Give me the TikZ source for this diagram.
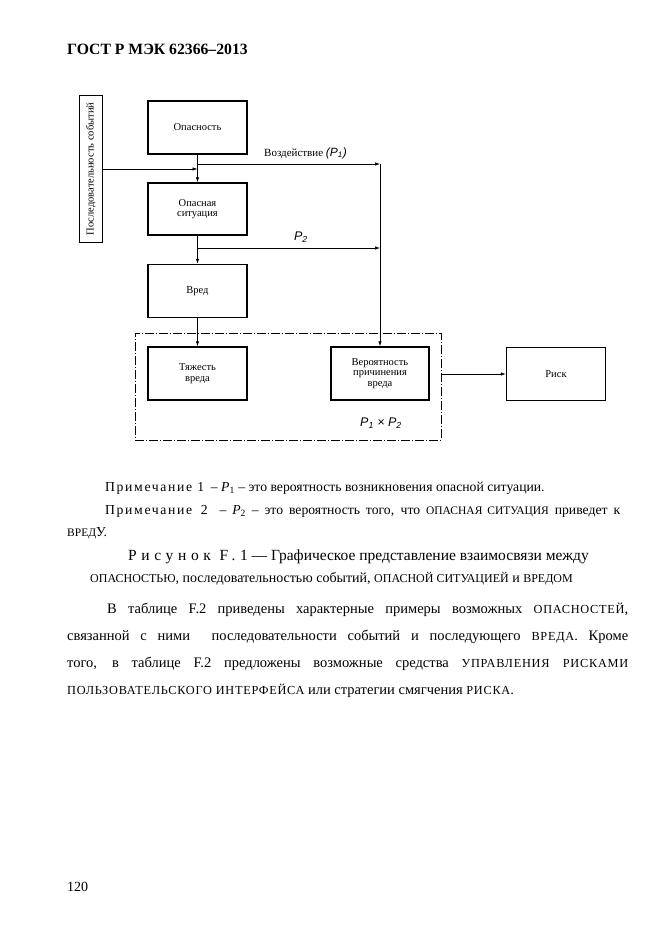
\documentclass[tikz,border=0pt]{standalone}
\usepackage{fontspec}
\setmainfont{Liberation Serif}
\newfontfamily\sansf{Liberation Sans}
\newfontfamily\spacedf[LetterSpace=12]{Liberation Serif}
\newfontfamily\widef[LetterSpace=30]{Liberation Serif}
\newfontfamily\capsf[LetterSpace=6]{Liberation Serif}
\usetikzlibrary{arrows.meta}
\newcommand{\fsz}[1]{\fontsize{#1}{#1}\selectfont}
\newcommand{\scp}[1]{{\capsf\fontsize{12.3}{12.3}\selectfont #1}}
\newcommand{\scq}[1]{{\fontsize{11.5}{11.5}\selectfont #1}}
\newcommand{\scr}[1]{{\fontsize{12}{12}\selectfont #1}}
\begin{document}
\begin{tikzpicture}[x=1pt,y=-1pt,
  box/.style={draw, line width=1.5pt, minimum width=99pt, minimum height=53pt, inner sep=0pt, font=\fsz{10.5}, align=center},
  arr/.style={-{Latex[length=5pt,width=3.5pt]}, line width=0.7pt},
  txt/.style={inner sep=0pt, anchor=west},
  pl/.style={inner sep=0pt, font=\sansf\itshape\fsz{12.5}}]
\fill[white] (0,0) rectangle (662,935);
\useasboundingbox (0,0) rectangle (662,935);
% header
\node[txt, font=\bfseries\fsz{15.7}] (hdr) at (67,49) {ГОСТ Р МЭК 62366–2013};
% diagram
\node[box, minimum width=23pt, minimum height=147pt] (seq) at (91,169) {};
\node[inner sep=0pt, rotate=90, font=\fsz{10.5}] (seqt) at (91,169) {Последовательность событий};
\node[box] (haz) at (197.5,127.5) {Опасность};
\node[box, minimum height=52pt] (sit) at (197.5,209) {Опасная\\ситуация};
\node[box] (harm) at (197.5,291) {Вред};
\node[box] (sev) at (197.5,373.5) {Тяжесть\\вреда};
\node[box, minimum width=98pt] (prob) at (380,373.5) {Вероятность\\причинения\\вреда};
\node[box] (risk) at (556,374) {Риск};
\node[draw, line width=0.6pt, dash pattern=on 9pt off 2pt on 1pt off 2pt, minimum width=306pt, minimum height=107pt, inner sep=0pt] (dbox) at (288,386.5) {};
\coordinate (c1) at (197.5,164);
\coordinate (c2) at (380,164);
\coordinate (d1) at (197.5,248);
\coordinate (d2) at (380,248);
\draw[arr] (seq.east) -- (seq.east -| haz.south);
\draw[arr] (haz.south) -- (sit.north);
\draw[arr] (c1) -- (c2);
\draw[arr] (c2) -- (prob.north);
\draw[arr] (sit.south) -- (harm.north);
\draw[arr] (d1) -- (d2);
\draw[arr] (harm.south) -- (sev.north);
\draw[arr] (dbox.east |- risk.west) -- (risk.west);
\node[inner sep=0pt, anchor=west, font=\fsz{11}] (p1l) at (264,153) {Воздействие {\sansf\itshape\fsz{12}(P\textsubscript{1})}};
\node[pl] (p2l) at (301,237) {P\textsubscript{2}};
\node[pl] (p12) at (381,423) {P\textsubscript{1} × P\textsubscript{2}};
% notes
\node[txt, font=\fsz{13.7}] (n1) at (105,488) {{\spacedf Примечание 1} \ – \textit{P}\textsubscript{1} – это вероятность возникновения опасной ситуации.};
\node[txt, font=\fsz{13.7}] (n2) at (105,511) {\makebox[515pt][s]{{\spacedf Примечание 2} \ – \textit{P}\textsubscript{2} – это вероятность того, что \scq{ОПАСНАЯ СИТУАЦИЯ} приведет к}};
\node[txt, font=\fsz{13.7}] (n3) at (67,533) {\scq{ВРЕД}У.};
% caption
\node[txt, font=\fsz{15.5}] (cap1) at (128,557) {{\widef Рисунок F.1} — Графическое представление взаимосвязи между};
\node[txt, font=\fsz{14}] (cap2) at (90,579) {\scr{ОПАСНОСТЬЮ}, последовательностью событий, \scr{ОПАСНОЙ СИТУАЦИЕЙ} и \scr{ВРЕДОМ}};
% body
\node[txt, font=\fsz{14.5}] (b1) at (107,610) {\makebox[521pt][s]{В таблице F.2 приведены характерные примеры возможных \scp{ОПАСНОСТЕЙ},}};
\node[txt, font=\fsz{14.5}] (b2) at (67,637) {\makebox[561pt][s]{связанной с ними \ последовательности событий и последующего \scp{ВРЕДА}. Кроме}};
\node[txt, font=\fsz{14.5}] (b3) at (67,664) {\makebox[561pt][s]{того, в таблице F.2 предложены возможные средства \scp{УПРАВЛЕНИЯ РИСКАМИ}}};
\node[txt, font=\fsz{14.5}] (b4) at (67,691) {\scp{ПОЛЬЗОВАТЕЛЬСКОГО ИНТЕРФЕЙСА} или стратегии смягчения \scp{РИСКА}.};
% page number
\node[txt, font=\fsz{14}] (pg) at (67,887) {120};
\end{tikzpicture}
\end{document}
